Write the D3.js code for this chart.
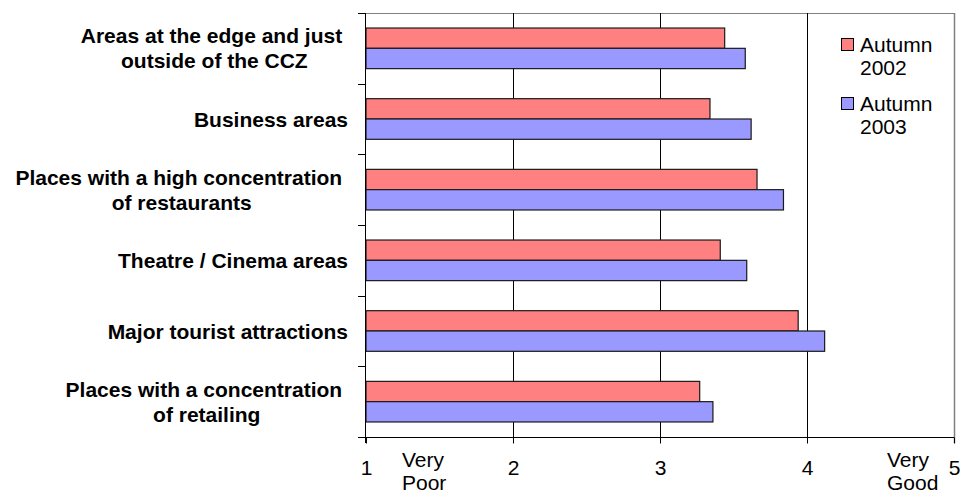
<!DOCTYPE html>
<html>
<head>
<meta charset="utf-8">
<script src="https://cdn.jsdelivr.net/npm/d3@7"></script>
<style>
  html, body { margin: 0; padding: 0; background: #fff; }
  svg { display: block; font-family: "Liberation Sans", Arial, sans-serif; }
</style>
</head>
<body>
<svg id="chart" width="961" height="493"></svg>
<script>
// Ratings by area type, top to bottom
const categories = [
  "Areas at the edge and just outside of the CCZ",
  "Business areas",
  "Places with a high concentration of restaurants",
  "Theatre / Cinema areas",
  "Major tourist attractions",
  "Places with a concentration of retailing"
];
// Wrapped label lines for each category
const categoryLines = [
  ["Areas at the edge and just ", "outside of the CCZ"],
  ["Business areas"],
  ["Places with a high concentration ", "of restaurants"],
  ["Theatre / Cinema areas"],
  ["Major tourist attractions"],
  ["Places with a concentration ", "of retailing"]
];
const seriesNames = ["Autumn 2002", "Autumn 2003"];
const autumn2002 = [3.44, 3.34, 3.66, 3.41, 3.94, 3.27];
const autumn2003 = [3.58, 3.62, 3.84, 3.59, 4.12, 3.36];
const xTicks = [1, 2, 3, 4, 5];
const gridTicks = [2, 3, 4];
const colors = ["#FF8080", "#9999FF"];

(function () {
  const svg = d3.select("#chart");
  const pl = 366, pr = 954, pt = 13, pb = 437;

  const x = d3.scaleLinear().domain([1, 5]).range([pl, pr]);
  const y = d3.scaleBand().domain(categories).range([pt, pb]).padding(0);
  const ySub = d3.scaleBand().domain(seriesNames).range([0, y.bandwidth()])
    .paddingInner(0).paddingOuter(0.74);
  const color = d3.scaleOrdinal().domain(seriesNames).range(colors);

  // frame: grey top and right edges
  svg.append("line").attr("x1", pl).attr("x2", pr + 0.5)
    .attr("y1", pt + 0.5).attr("y2", pt + 0.5)
    .attr("stroke", "#808080").attr("stroke-width", 1);
  svg.append("line").attr("x1", pr + 0.5).attr("x2", pr + 0.5)
    .attr("y1", pt).attr("y2", pb + 6)
    .attr("stroke", "#808080").attr("stroke-width", 1.5);

  // vertical gridlines
  svg.append("g").selectAll("line").data(gridTicks).join("line")
    .attr("x1", d => Math.round(x(d)) + 0.5).attr("x2", d => Math.round(x(d)) + 0.5)
    .attr("y1", pt).attr("y2", pb)
    .attr("stroke", "#000").attr("stroke-width", 1);

  // bars
  const rows = categories.map((c, i) => ({
    cat: c,
    vals: [
      { s: seriesNames[0], v: autumn2002[i] },
      { s: seriesNames[1], v: autumn2003[i] }
    ]
  }));
  const groups = svg.append("g").selectAll("g").data(rows).join("g")
    .attr("transform", d => `translate(0,${y(d.cat)})`);
  groups.selectAll("rect").data(d => d.vals).join("rect")
    .attr("x", x(1))
    .attr("y", d => ySub(d.s))
    .attr("width", d => x(d.v) - x(1))
    .attr("height", ySub.bandwidth())
    .attr("fill", d => color(d.s))
    .attr("stroke", "#1a1a1a")
    .attr("stroke-width", 1.2);

  // x axis
  const xAxis = svg.append("g")
    .attr("transform", `translate(0,${pb + 0.5})`)
    .call(d3.axisBottom(x).tickValues(xTicks).tickFormat(d3.format("d")).tickSize(6).tickSizeOuter(0));
  xAxis.select(".domain").attr("stroke", "#000").attr("d", `M${pl - 8},0H${pr}`);
  xAxis.selectAll(".tick line").attr("stroke", "#000");
  xAxis.selectAll(".tick text")
    .attr("y", 37.5).attr("dy", 0)
    .attr("font-size", 21).attr("fill", "#000")
    .attr("font-family", "Liberation Sans, Arial, sans-serif");

  // scale end descriptions
  const ends = [
    { lines: ["Very", "Poor"], x: 402 },
    { lines: ["Very", "Good"], x: 887 }
  ];
  ends.forEach(e => {
    const t = svg.append("text").attr("font-size", 21).attr("fill", "#000");
    e.lines.forEach((l, i) => {
      t.append("tspan").attr("x", e.x).attr("y", 467 + i * 23).text(l);
    });
  });

  // y axis line and category ticks at band boundaries
  svg.append("line").attr("x1", pl - 0.5).attr("x2", pl - 0.5)
    .attr("y1", pt).attr("y2", pb + 6)
    .attr("stroke", "#000").attr("stroke-width", 1);
  const boundaries = categories.map(c => y(c)).concat([y.range()[1]]);
  svg.append("g").selectAll("line").data(boundaries).join("line")
    .attr("x1", pl - 8).attr("x2", pl)
    .attr("y1", d => Math.round(d) + 0.5).attr("y2", d => Math.round(d) + 0.5)
    .attr("stroke", "#000").attr("stroke-width", 1);

  // category labels: centred lines, right-aligned block
  const labelRight = 348;
  const lineH = 25, capH = 15;
  const labels = svg.append("g").attr("font-size", 21).attr("font-weight", "bold").attr("fill", "#000");
  categories.forEach((c, i) => {
    const lines = categoryLines[i];
    const cy = y(c) + y.bandwidth() / 2;
    const t = labels.append("text").attr("text-anchor", "middle").style("white-space", "pre");
    const spans = lines.map((l, k) => t.append("tspan")
      .attr("y", cy + capH / 2 - (lines.length - 1) * lineH / 2 + k * lineH)
      .text(l));
    const maxW = d3.max(spans, s => s.node().getComputedTextLength());
    spans.forEach(s => s.attr("x", labelRight - maxW / 2));
  });

  // legend
  const legend = svg.append("g");
  const legendY = [38, 97];
  seriesNames.forEach((s, i) => {
    const g = legend.append("g").attr("transform", `translate(841,${legendY[i]})`);
    g.append("rect").attr("x", 0.5).attr("y", 0.5).attr("width", 12).attr("height", 12)
      .attr("fill", color(s)).attr("stroke", "#000").attr("stroke-width", 1);
    const parts = s.split(" ");
    const t = g.append("text").attr("font-size", 21).attr("fill", "#000");
    parts.forEach((p, k) => {
      t.append("tspan").attr("x", 19).attr("y", 13.5 + k * 23).text(p);
    });
  });
})();
</script>
</body>
</html>
